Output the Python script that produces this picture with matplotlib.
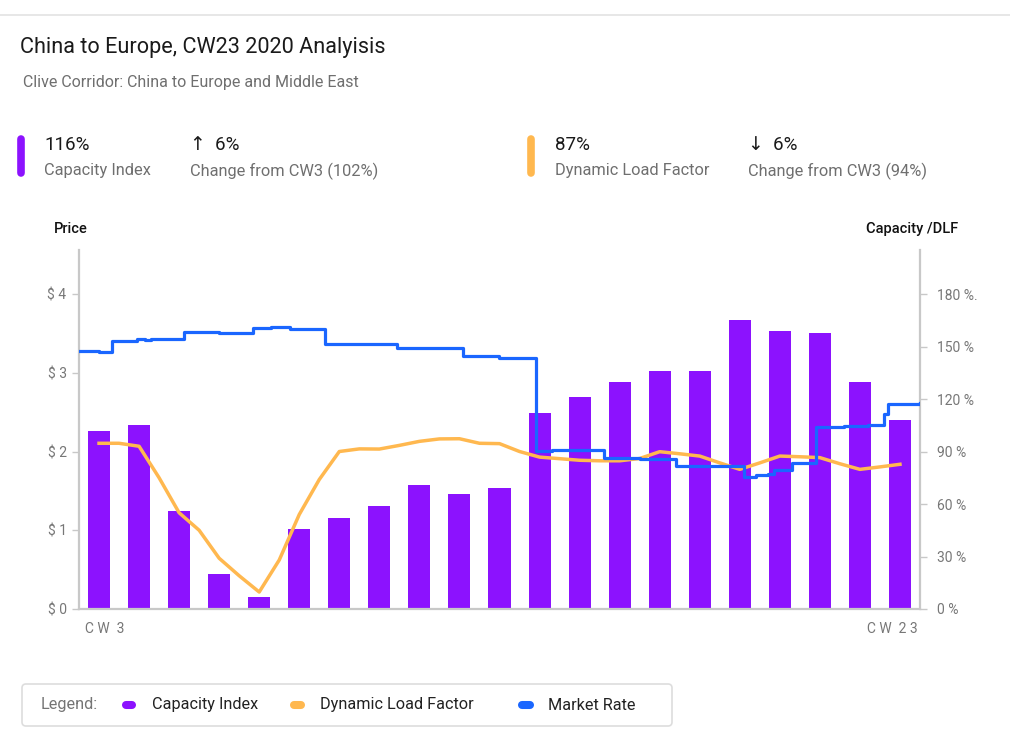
import matplotlib
matplotlib.use("Agg")
import matplotlib.pyplot as plt
import numpy as np
from matplotlib.lines import Line2D
from matplotlib.patches import FancyBboxPatch

plt.rcParams['font.family'] = ['Roboto', 'DejaVu Sans']

# ---------------- data ----------------
weeks = list(range(3, 24))                      # CW3 .. CW23
capacity_index = [102, 105, 56, 20, 7, 46, 52, 59, 71, 66, 69,
                  112, 121, 130, 136, 136, 165, 159, 158, 130, 108]   # %

# dynamic load factor, sampled every half week (CW3 .. CW23)
dlf_pos = [i * 0.5 for i in range(41)]
dlf_values = [94.7, 94.7, 93, 75, 55, 45, 29, 19, 9.7, 28, 54, 74, 90,
              91.5, 91.4, 93.5, 95.8, 97.2, 97.3, 94.7, 94.5, 90, 86.8,
              85.9, 85, 84.7, 84.7, 86, 89.9, 88.7, 87.4, 83.5, 79.8,
              83.5, 87.4, 87, 86.5, 83, 79.8, 81.2, 82.7]

# market rate ($), step changes (position in weeks from CW3, value)
rate_pos = [-0.5, 0.0, 0.32, 0.94, 1.15, 1.3, 2.13, 3.0, 3.85, 4.3, 4.78,
            5.65, 6.5, 7.0, 7.44, 9.08, 10.0, 10.9, 11.3, 12.6, 13.5, 14.4,
            16.1, 16.4, 16.7, 16.85, 17.3, 17.6, 17.9, 18.6, 19.2, 19.6,
            19.7, 20.5]
rate_values = [3.28, 3.26, 3.40, 3.43, 3.42, 3.43, 3.52, 3.51, 3.57, 3.58,
               3.55, 3.36, 3.37, 3.36, 3.31, 3.21, 3.19, 2.01, 2.02, 1.92,
               1.91, 1.81, 1.67, 1.70, 1.72, 1.77, 1.85, 1.86, 2.31, 2.32,
               2.34, 2.48, 2.60, 2.61]

price_ticks = [0, 1, 2, 3, 4]
price_labels = ["$ 0", "$ 1", "$ 2", "$ 3", "$ 4"]
pct_ticks = [0, 30, 60, 90, 120, 150, 180]
pct_labels = ["0 %", "30 %", "60 %", "90 %", "120 %", "150 %", "180 %."]
x_labels = ["C W  3", "C W  2 3"]

PURPLE = '#8C12FE'
ORANGE = '#FFB84F'
BLUE = '#1A66FF'
GRID = '#c8c8c8'
TICK = '#777777'

W, H = 1010, 732
fig = plt.figure(figsize=(W / 100, H / 100), dpi=100)

# overlay in pixel coords
ov = fig.add_axes([0, 0, 1, 1])
ov.set_xlim(0, W)
ov.set_ylim(H, 0)
ov.axis('off')

def px_ax(l, t, r, b):
    return [l / W, 1 - b / H, (r - l) / W, (b - t) / H]

ax = fig.add_axes(px_ax(79, 250, 920, 609))
ax2 = ax.twinx()

x = np.arange(len(weeks))
ax2.bar(x, capacity_index, width=0.55, color=PURPLE, zorder=2)
ax2.plot(dlf_pos, dlf_values, color=ORANGE, lw=2.5, zorder=3,
         solid_joinstyle='round')
ax.step(rate_pos, rate_values, where='post', color=BLUE, lw=2.3, zorder=4)

ax.set_zorder(ax2.get_zorder() + 1)
ax.patch.set_visible(False)

ax.set_xlim(-0.5, 20.5)
ax.set_ylim(0, 4.559)
ax2.set_ylim(0, 4.559 * 45)

ax.set_yticks(price_ticks)
ax.set_yticklabels(price_labels)
ax2.set_yticks(pct_ticks)
ax2.set_yticklabels(pct_labels)
ax.set_xticks([])
ax.text(-0.35, -0.055, x_labels[0], transform=ax.get_xaxis_transform(),
        ha='left', va='center', fontsize=10, color=TICK)
ax.text(20.45, -0.055, x_labels[1], transform=ax.get_xaxis_transform(),
        ha='right', va='center', fontsize=10, color=TICK)

for a in (ax, ax2):
    for s in a.spines.values():
        s.set_visible(False)
ax.spines['left'].set_visible(True)
ax.spines['bottom'].set_visible(True)
ax2.spines['right'].set_visible(True)
for s in (ax.spines['left'], ax.spines['bottom'], ax2.spines['right']):
    s.set_color(GRID)
    s.set_linewidth(1.6)

ax.tick_params(axis='y', length=5, width=1, color=GRID, labelcolor=TICK,
               labelsize=10, pad=4)
ax2.tick_params(axis='y', length=5, width=1, color=GRID, labelcolor=TICK,
                labelsize=10, pad=7)

# ------------- header -------------
ov.plot([0, W], [15, 15], color='#e3e3e3', lw=1.2)
ov.text(20, 47, "China to Europe, CW23 2020 Analyisis", fontsize=15.6,
        color='#1a1a1a', va='center', ha='left')
ov.text(23, 82, "Clive Corridor: China to Europe and Middle East",
        fontsize=11.5, color='#6f6f6f', va='center', ha='left')

def pill_v(xc, y0, y1, color):
    ov.add_line(Line2D([xc, xc], [y0, y1], color=color, lw=5.5,
                       solid_capstyle='round'))

def pill_h(x0, x1, yc, color):
    ov.add_line(Line2D([x0, x1], [yc, yc], color=color, lw=5.8,
                       solid_capstyle='round'))

pill_v(20.5, 139, 173, PURPLE)
pill_v(531, 139, 173, ORANGE)

kpis = [(44, "116%", "Capacity Index"),
        (190, "\u2191  6%", "Change from CW3 (102%)"),
        (555, "87%", "Dynamic Load Factor"),
        (748, "\u2193  6%", "Change from CW3 (94%)")]
for xk, v, lab in kpis:
    ov.text(xk, 145, v, fontsize=13.5, color='#1a1a1a', va='center', ha='left')
    ov.text(xk, 171, lab, fontsize=11.8, color='#6f6f6f', va='center', ha='left')

ov.text(54, 229, "Price", fontsize=10.5, color='#111111', va='center',
        ha='left', fontweight='medium')
ov.text(958, 229, "Capacity /DLF", fontsize=10.5, color='#111111',
        va='center', ha='right', fontweight='medium')

# ------------- legend -------------
box = FancyBboxPatch((22, 684), 650, 42,
                     boxstyle="round,pad=0,rounding_size=4",
                     fc='white', ec='#dddddd', lw=1.2)
ov.add_patch(box)
ov.text(41, 705, "Legend:", fontsize=11.7, color='#757575', va='center')
legend_items = [(126, 132, 152, "Capacity Index", PURPLE),
                (294, 301, 320, "Dynamic Load Factor", ORANGE),
                (522, 530, 548, "Market Rate", BLUE)]
for x0, x1, xt, lab, c in legend_items:
    pill_h(x0, x1, 705, c)
    ov.text(xt, 705, lab, fontsize=11.7, color='#222222', va='center')

fig.savefig("out.png", dpi=100)
